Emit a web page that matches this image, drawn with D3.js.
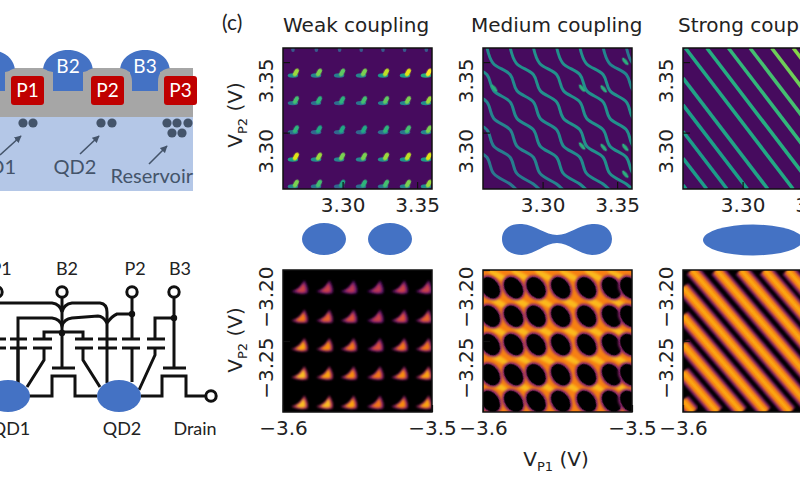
<!DOCTYPE html>
<html>
<head>
<meta charset="utf-8">
<script src="https://cdn.jsdelivr.net/npm/d3@7"></script>
<style>
  html, body { margin: 0; padding: 0; background: #fff; overflow: hidden; }
  text { font-family: "DejaVu Sans", sans-serif; fill: #222; }
  .note text, text.note { font-family: Lato, "Open Sans", sans-serif; }
</style>
</head>
<body>
<script>
// panel titles and axis ticks
const titles = ["Weak coupling", "Medium coupling", "Strong coupling"];
const topTicks = [3.30, 3.35];
const bottomTicksP1 = [-3.6, -3.5];
const bottomTicksP2 = [-3.25, -3.20];

// Weak coupling, top row: peak positions and heights
const weakTopP1 = [3.268, 3.2835, 3.299, 3.3137, 3.3285, 3.3432, 3.3573];
const weakTopP2 = [3.3416, 3.322, 3.3013, 3.282, 3.2628];
const weakTopLevel = [
  [0.75, 0.70, 0.65, 0.70, 0.80, 0.85, 0.95],
  [0.60, 0.55, 0.55, 0.60, 0.65, 0.70, 0.75],
  [0.55, 0.50, 0.50, 0.50, 0.55, 0.60, 0.70],
  [0.85, 0.75, 0.70, 0.70, 0.75, 0.80, 0.85],
  [0.70, 0.60, 0.50, 0.55, 0.60, 0.70, 0.75]
];
const weakTopFaintP1 = [3.2667, 3.2824, 3.298, 3.3125, 3.3271, 3.3416, 3.3562];

// Weak coupling, bottom row
const weakBottomP1 = [-3.5877, -3.5709, -3.5546, -3.5369, -3.5206, -3.5043];
const weakBottomP2 = [-3.2129, -3.2334, -3.2536, -3.2734, -3.2941];
const weakBottomLevel = [
  [0.55, 0.55, 0.50, 0.50, 0.55, 0.55],
  [0.70, 0.65, 0.60, 0.55, 0.60, 0.65],
  [0.80, 0.75, 0.70, 0.60, 0.70, 0.70],
  [0.85, 0.80, 0.75, 0.70, 0.75, 0.80],
  [0.85, 0.85, 0.80, 0.70, 0.75, 0.80]
];

// Medium coupling, top row: wavy lines, P1 value of each line at the shared P2 levels
const mediumTopP2 = [3.36, 3.3493, 3.341, 3.3299, 3.3216, 3.3102, 3.3019, 3.2905, 3.2825, 3.2711, 3.2635, 3.2593];
const mediumTopP1 = [
  [3.2003, 3.2043, 3.2159, 3.2203, 3.2315, 3.2359, 3.2471, 3.2515, 3.2626, 3.2671, 3.2782, 3.2827],
  [3.2159, 3.2199, 3.2315, 3.2359, 3.2471, 3.2515, 3.2627, 3.2671, 3.2782, 3.2827, 3.2938, 3.2983],
  [3.2315, 3.2355, 3.2471, 3.2515, 3.2627, 3.2671, 3.2783, 3.2827, 3.2938, 3.2983, 3.3094, 3.3139],
  [3.2471, 3.2511, 3.2627, 3.2671, 3.2783, 3.2827, 3.2939, 3.2983, 3.3094, 3.3139, 3.3250, 3.3295],
  [3.2627, 3.2667, 3.2783, 3.2827, 3.2939, 3.2983, 3.3095, 3.3139, 3.3250, 3.3295, 3.3406, 3.3451],
  [3.2783, 3.2823, 3.2939, 3.2983, 3.3095, 3.3139, 3.3251, 3.3295, 3.3406, 3.3451, 3.3562, 3.3607],
  [3.2939, 3.2979, 3.3095, 3.3139, 3.3251, 3.3295, 3.3407, 3.3451, 3.3562, 3.3607, 3.3718, 3.3763],
  [3.3095, 3.3135, 3.3251, 3.3295, 3.3407, 3.3451, 3.3563, 3.3607, 3.3718, 3.3763, 3.3874, 3.3919],
  [3.3251, 3.3291, 3.3407, 3.3451, 3.3563, 3.3607, 3.3719, 3.3763, 3.3874, 3.3919, 3.4030, 3.4075],
  [3.3407, 3.3447, 3.3563, 3.3607, 3.3719, 3.3763, 3.3875, 3.3919, 3.4030, 3.4075, 3.4186, 3.4231],
  [3.3563, 3.3603, 3.3719, 3.3763, 3.3875, 3.3919, 3.4031, 3.4075, 3.4186, 3.4231, 3.4342, 3.4387]
];
const mediumTopLevel = [0.4, 0.42, 0.45, 0.48, 0.48, 0.5, 0.5, 0.5, 0.5, 0.46, 0.4];
const mediumTopHotP1 = [3.3265, 3.341, 3.3265, 3.341, 3.3555, 3.3555, 3.3555, 3.2675];
const mediumTopHotP2 = [3.3315, 3.331, 3.2905, 3.2895, 3.2895, 3.3505, 3.2705, 3.3315];

// Medium coupling, bottom row: dark cells, bright ridges between rows
const mediumCellP1 = [-3.5951, -3.5795, -3.5644, -3.5479, -3.5305, -3.5138, -3.5016];
const mediumCellP2 = [-3.2125, -3.2325, -3.2525, -3.2737, -3.2925];
const mediumRidgeP1 = [-3.5873, -3.5717, -3.5561, -3.5394, -3.5227, -3.5071];
const mediumRidgeP2 = [-3.2042, -3.2231, -3.2431, -3.2626, -3.2819];

// Strong coupling, top row: straight lines as start and end points
const strongTopStartP1 = [3.26, 3.26, 3.26, 3.26, 3.26, 3.2616, 3.276, 3.2905, 3.305, 3.3195, 3.334, 3.3485];
const strongTopStartP2 = [3.2628, 3.2818, 3.3008, 3.3197, 3.3387, 3.36, 3.36, 3.36, 3.36, 3.36, 3.36, 3.36];
const strongTopEndP1 = [3.262, 3.2759, 3.2895, 3.3032, 3.3169, 3.3339, 3.3483, 3.3628, 3.3773, 3.3918, 3.4063, 3.4208];
const strongTopEndP2 = [3.26, 3.26, 3.26, 3.26, 3.26, 3.26, 3.26, 3.26, 3.26, 3.26, 3.26, 3.26];
const strongTopLevel = [0.55, 0.55, 0.55, 0.56, 0.58, 0.6, 0.62, 0.66, 0.7, 0.78, 0.82, 0.85];

// Strong coupling, bottom row
const strongBottomStartP1 = [-3.6, -3.6, -3.6, -3.6, -3.6, -3.594, -3.5774, -3.561, -3.545, -3.5296, -3.5127, -3.4971];
const strongBottomStartP2 = [-3.292, -3.2721, -3.2522, -3.2324, -3.2125, -3.2, -3.2, -3.2, -3.2, -3.2, -3.2, -3.2];
const strongBottomEndP1 = [-3.5934, -3.5771, -3.5608, -3.5446, -3.5283, -3.512, -3.4954, -3.479, -3.463, -3.4476, -3.4307, -3.4151];
const strongBottomEndP2 = [-3.3, -3.3, -3.3, -3.3, -3.3, -3.3, -3.3, -3.3, -3.3, -3.3, -3.3, -3.3];

const width = 800;
const height = 480;
const viridis = d3.scaleSequential(d3.interpolateViridis).domain([0, 1]);
const inferno = d3.scaleSequential(d3.interpolateInferno).domain([0, 1]);

const svg = d3.select("body").append("svg")
  .attr("width", width)
  .attr("height", height)
  .style("display", "block");

const defs = svg.append("defs");
[["blur1", 0.6], ["blur2", 1.1], ["blur3", 2]].forEach(([id, dev]) => {
  defs.append("filter").attr("id", id)
    .attr("x", "-50%").attr("y", "-50%").attr("width", "200%").attr("height", "200%")
    .append("feGaussianBlur").attr("stdDeviation", dev);
});

// Sets up one heatmap panel and returns what the drawing code needs
function makePanel(id, x0, y0, w, h, xDomain, yDomain, background) {
  const x = d3.scaleLinear().domain(xDomain).range([x0, x0 + w]);
  const y = d3.scaleLinear().domain(yDomain).range([y0 + h, y0]);
  defs.append("clipPath").attr("id", id).append("rect")
    .attr("x", x0).attr("y", y0).attr("width", w).attr("height", h);
  const g = svg.append("g").attr("clip-path", `url(#${id})`);
  g.append("rect").attr("x", x0).attr("y", y0).attr("width", w).attr("height", h).attr("fill", background);
  return { x, y, g, x0, y0, w, h };
}

// Frame, inward ticks and the rotated labels
function addAxes(panel, xTicks, yTicks, xFormat, yFormat) {
  const { x, y, x0, y0, w, h } = panel;
  const bottom = svg.append("g").attr("transform", `translate(0,${y0 + h})`)
    .call(d3.axisBottom(x).tickValues(xTicks).tickFormat(d3.format(xFormat)).tickSizeInner(-7).tickSizeOuter(0).tickPadding(9));
  const left = svg.append("g").attr("transform", `translate(${x0},0)`)
    .call(d3.axisLeft(y).tickValues(yTicks).tickFormat(d3.format(yFormat)).tickSizeInner(-7).tickSizeOuter(0).tickPadding(0));
  [bottom, left].forEach((a) => {
    a.select(".domain").remove();
    a.selectAll("line").attr("stroke", "#111").attr("stroke-width", 1.2);
    a.selectAll("text").style("font-family", "DejaVu Sans").style("font-size", "20px").attr("fill", "#222");
  });
  // y labels read upward and finish just above their tick
  left.selectAll("text")
    .attr("dy", 0).attr("x", 0)
    .attr("text-anchor", "end")
    .attr("transform", "translate(-10,-4) rotate(-90)");
  svg.append("rect").attr("x", x0).attr("y", y0).attr("width", w).attr("height", h)
    .attr("fill", "none").attr("stroke", "#111").attr("stroke-width", 1.5);
}

const panelX = [283, 483, 683];
const panelW = 149;

// ---------- Weak coupling ----------
const weakTop = makePanel("p1", panelX[0], 48, panelW, 141, [3.26, 3.36], [3.26, 3.36], viridis(0.03));
weakTop.g.selectAll(".faint").data(weakTopFaintP1).join("line")
  .attr("x1", (d) => weakTop.x(d)).attr("x2", (d) => weakTop.x(d))
  .attr("y1", weakTop.y(3.36)).attr("y2", weakTop.y(3.26))
  .attr("stroke", viridis(0.14)).attr("stroke-width", 1.2).attr("filter", "url(#blur1)");
weakTop.g.selectAll(".cap").data(weakTopFaintP1).join("ellipse")
  .attr("cx", (d) => weakTop.x(d)).attr("cy", weakTop.y(3.359))
  .attr("rx", 1.8).attr("ry", 2.5).attr("fill", viridis(0.28)).attr("filter", "url(#blur1)");
weakTopP2.forEach((v2, r) => {
  weakTopP1.forEach((v1, c) => {
    const cx = weakTop.x(v1), cy = weakTop.y(v2), level = weakTopLevel[r][c];
    const dot = weakTop.g.append("g").attr("transform", `translate(${cx},${cy})`);
    dot.append("ellipse").attr("cx", -2).attr("cy", 1.5).attr("rx", 5.2).attr("ry", 2.2)
      .attr("fill", viridis(level * 0.65)).attr("filter", "url(#blur1)");
    dot.append("ellipse").attr("cx", 1).attr("cy", -1.5).attr("rx", 2.3).attr("ry", 4.2)
      .attr("transform", "rotate(30 1 -1.5)")
      .attr("fill", viridis(Math.min(level + 0.1, 1))).attr("filter", "url(#blur1)");
  });
});
addAxes(weakTop, topTicks, topTicks, ".2f", ".2f");

const weakBottom = makePanel("p2", panelX[0], 270, panelW, 142, [-3.6, -3.5], [-3.3, -3.2], "#000");
weakBottomP2.forEach((v2, r) => {
  weakBottomP1.forEach((v1, c) => {
    const cx = weakBottom.x(v1), cy = weakBottom.y(v2), level = weakBottomLevel[r][c];
    const dot = weakBottom.g.append("g").attr("transform", `translate(${cx},${cy})`);
    dot.append("path").attr("d", "M-10,3 Q-2,1 3,-8 Q8,0 6,5 Q-2,7 -10,3 Z")
      .attr("fill", inferno(level * 0.55)).attr("filter", "url(#blur2)");
    dot.append("path").attr("d", "M-6,2.5 Q-1,1 2,-5 Q5,0 4,3.5 Q-1,5 -6,2.5 Z")
      .attr("fill", inferno(level)).attr("filter", "url(#blur2)");
  });
});
addAxes(weakBottom, bottomTicksP1, bottomTicksP2, ".1f", ".2f");

// ---------- Medium coupling ----------
const mediumTop = makePanel("p3", panelX[1], 48, panelW, 141, [3.26, 3.36], [3.26, 3.36], viridis(0.03));
const wave = d3.line().curve(d3.curveCatmullRom.alpha(0.5));
mediumTop.g.selectAll(".wave").data(mediumTopP1).join("path")
  .attr("d", (row) => wave(row.map((v1, i) => [mediumTop.x(v1), mediumTop.y(mediumTopP2[i])])))
  .attr("fill", "none")
  .attr("stroke", (row, i) => viridis(mediumTopLevel[i]))
  .attr("stroke-width", 3)
  .attr("filter", "url(#blur1)");
mediumTop.g.selectAll(".hot").data(mediumTopHotP1).join("ellipse")
  .attr("transform", (d, i) => `translate(${mediumTop.x(d)},${mediumTop.y(mediumTopHotP2[i])}) rotate(50)`)
  .attr("rx", 4.5).attr("ry", 1.8).attr("fill", viridis(0.64)).attr("filter", "url(#blur1)");
addAxes(mediumTop, topTicks, topTicks, ".2f", ".2f");

const mediumBottom = makePanel("p4", panelX[1], 270, panelW, 142, [-3.6, -3.5], [-3.3, -3.2], inferno(0.72));
mediumRidgeP2.forEach((v2) => {
  mediumRidgeP1.forEach((v1) => {
    const cx = mediumBottom.x(v1), cy = mediumBottom.y(v2);
    mediumBottom.g.append("ellipse").attr("rx", 12).attr("ry", 3)
      .attr("transform", `translate(${cx - 3},${cy}) rotate(28)`)
      .attr("fill", inferno(0.84)).attr("filter", "url(#blur2)");
  });
});
mediumCellP2.forEach((v2) => {
  mediumCellP1.forEach((v1) => {
    const cx = mediumBottom.x(v1), cy = mediumBottom.y(v2);
    mediumBottom.g.append("ellipse").attr("rx", 10.5).attr("ry", 13.5)
      .attr("transform", `translate(${cx},${cy}) rotate(-35)`)
      .attr("fill", inferno(0.36)).attr("filter", "url(#blur2)");
    mediumBottom.g.append("ellipse").attr("rx", 8.5).attr("ry", 11.5)
      .attr("transform", `translate(${cx},${cy}) rotate(-35)`)
      .attr("fill", "#000").attr("filter", "url(#blur1)");
  });
});
addAxes(mediumBottom, bottomTicksP1, bottomTicksP2, ".1f", ".2f");

// ---------- Strong coupling ----------
const strongTop = makePanel("p5", panelX[2], 48, panelW, 141, [3.26, 3.36], [3.26, 3.36], viridis(0.03));
strongTop.g.selectAll(".band").data(strongTopStartP1).join("line")
  .attr("x1", (d) => strongTop.x(d))
  .attr("y1", (d, i) => strongTop.y(strongTopStartP2[i]))
  .attr("x2", (d, i) => strongTop.x(strongTopEndP1[i]))
  .attr("y2", (d, i) => strongTop.y(strongTopEndP2[i]))
  .attr("stroke", (d, i) => viridis(strongTopLevel[i]))
  .attr("stroke-width", 3.6)
  .attr("filter", "url(#blur1)");
addAxes(strongTop, topTicks, topTicks, ".2f", ".2f");

const strongBottom = makePanel("p6", panelX[2], 270, panelW, 142, [-3.6, -3.5], [-3.3, -3.2], "#000");
[[14, 0.36], [9, 0.72], [3, 0.82]].forEach(([sw, level]) => {
  strongBottom.g.append("g").selectAll("line").data(strongBottomStartP1).join("line")
    .attr("x1", (d) => strongBottom.x(d))
    .attr("y1", (d, i) => strongBottom.y(strongBottomStartP2[i]))
    .attr("x2", (d, i) => strongBottom.x(strongBottomEndP1[i]))
    .attr("y2", (d, i) => strongBottom.y(strongBottomEndP2[i]))
    .attr("stroke", inferno(level))
    .attr("stroke-width", sw)
    .attr("filter", "url(#blur2)");
});
addAxes(strongBottom, bottomTicksP1, bottomTicksP2, ".1f", ".2f");

// ---------- Titles and axis names ----------
svg.selectAll(".title").data(titles).join("text")
  .attr("x", (d, i) => [283, 471, 678][i])
  .attr("y", 32)
  .style("font-size", "20px")
  .text((d) => d);
svg.append("text").attr("class", "note").attr("x", 222).attr("y", 30).style("font-size", "21px").text("(c)");

function axisName(sel, main, sub, tail) {
  sel.style("font-size", "20px");
  sel.append("tspan").text(main);
  sel.append("tspan").attr("dy", 5).style("font-size", "13px").text(sub);
  sel.append("tspan").attr("dy", -5).text(tail);
}
[115, 340].forEach((cy) => {
  svg.append("text").attr("text-anchor", "middle")
    .attr("transform", `translate(242,${cy}) rotate(-90)`)
    .call(axisName, "V", "P2", " (V)");
});
svg.append("text").attr("text-anchor", "middle")
  .attr("transform", "translate(556,466)")
  .call(axisName, "V", "P1", " (V)");

// ---------- Dot shapes between the rows ----------
const blobColor = "#4472c4";
svg.append("ellipse").attr("cx", 324).attr("cy", 239).attr("rx", 22).attr("ry", 16).attr("fill", blobColor);
svg.append("ellipse").attr("cx", 390).attr("cy", 239).attr("rx", 22).attr("ry", 16).attr("fill", blobColor);
svg.append("ellipse").attr("cx", 753).attr("cy", 240).attr("rx", 50).attr("ry", 15.5).attr("fill", blobColor);
svg.append("path").attr("fill", blobColor)
  .attr("d", "M502,239 C502,228 512,223 522,224 C536,225 545,235 557,235 C569,235 578,225 592,224 C603,223 612,229 612,239 C612,249 603,255 592,255 C578,254 569,243 557,243 C545,243 536,254 522,255 C512,255 502,250 502,239 Z");

// ---------- Device cross section ----------
const device = svg.append("g").attr("class", "note");
const slate = "#44546a";
device.append("rect").attr("x", 0).attr("y", 117).attr("width", 193).attr("height", 74).attr("fill", "#b4c7e7");
device.append("rect").attr("x", 0).attr("y", 68).attr("width", 193).attr("height", 49).attr("fill", "#a6a6a6");

// barrier gates
const domePath = (cx) => `M${cx - 25},70 C${cx - 24},57 ${cx - 12},50 ${cx},50 C${cx + 12},50 ${cx + 24},57 ${cx + 25},70 L${cx + 15},72 L${cx + 15},91 L${cx - 15},91 L${cx - 15},72 Z`;
[-10, 68, 145].forEach((cx) => device.append("path").attr("d", domePath(cx)).attr("fill", blobColor));
[[-30, 23], [5, 47], [83, 49], [158, 35]].forEach(([x, w]) => {
  device.append("path").attr("fill", "#a6a6a6")
    .attr("d", `M${x},117 L${x},82 Q${x},68 ${x + 14},68 L${x + w - 14},68 Q${x + w},68 ${x + w},82 L${x + w},117 Z`);
});
device.selectAll(".b").data([["B2", 68], ["B3", 145]]).join("text")
  .attr("x", (d) => d[1]).attr("y", 73).attr("text-anchor", "middle")
  .style("font-size", "19px").style("fill", "#fff").text((d) => d[0]);

// plunger gates
[["P1", 11, 33], ["P2", 91, 33], ["P3", 164, 33]].forEach(([name, x, w]) => {
  device.append("rect").attr("x", x).attr("y", 76).attr("width", w).attr("height", 29).attr("rx", 3).attr("fill", "#c00000");
  device.append("text").attr("x", x + 16.5).attr("y", 97).attr("text-anchor", "middle")
    .style("font-size", "19px").style("fill", "#fff").text(name);
});
[[23, 123], [33, 123], [101, 123], [112, 123], [167, 123], [177, 123], [188, 123], [172, 133], [182, 133]].forEach(([cx, cy]) => {
  device.append("circle").attr("cx", cx).attr("cy", cy).attr("r", 4.6).attr("fill", slate);
});
defs.append("marker").attr("id", "tip").attr("viewBox", "0 0 10 10").attr("refX", 9).attr("refY", 5)
  .attr("markerWidth", 4.5).attr("markerHeight", 4.5).attr("orient", "auto")
  .append("path").attr("d", "M0,0 L10,5 L0,10 Z").attr("fill", slate);
[[0, 155, 21, 136], [80, 154, 99, 136], [149, 164, 167, 146]].forEach(([a, b, c, d]) => {
  device.append("line").attr("x1", a).attr("y1", b).attr("x2", c).attr("y2", d)
    .attr("stroke", slate).attr("stroke-width", 1.6).attr("marker-end", "url(#tip)");
});
[["QD1", 16, 174, "end"], ["QD2", 75, 174, "middle"], ["Reservoir", 193, 183, "end"]].forEach(([name, x, y, anchor]) => {
  device.append("text").attr("x", x).attr("y", y).attr("text-anchor", anchor)
    .style("font-size", "20px").style("fill", slate).text(name);
});

// ---------- Equivalent circuit ----------
const circuit = svg.append("g").attr("class", "note");
const wire = (d, w) => circuit.append("path").attr("d", d).attr("fill", "none")
  .attr("stroke", "#111").attr("stroke-width", w || 3);

// gate feed lines with hops over the B2 wire
wire("M-5,303 L52,303 Q60,304 62,312 Q64,304 72,303 L100,303 Q107,304 107,312 L107,383");
wire("M18,383 L18,318 L52,318 Q60,319 62,326 Q64,319 72,318 L98,316 Q103,316 107,323 Q112,316 117,314 L132,314");
wire("M44,339 L44,332 L83,332 L83,339");
wire("M-5,332 L-5,339");
wire("M155,339 L155,318 L174,318");

// vertical gate lines
wire("M62,297 L62,368");
wire("M132,297 L132,339 M132,348 L132,382");
wire("M174,297 L174,368");

// capacitors
[[-10, 6], [10, 27], [33, 52], [75, 93], [98, 117], [122, 140], [147, 165]].forEach(([a, b]) => {
  wire(`M${a},339 L${b},339 M${a},348 L${b},348`);
});
wire("M18,348 L18,383");
wire("M44,348 L44,360 L27,387");
wire("M83,348 L83,360 L100,387");
wire("M155,348 L155,355 L139,390");

// transistor channels and gates
wire("M29,396 L52,396 L52,376 L75,376 L75,396 L97,396");
wire("M141,396 L162,396 L162,376 L186,376 L186,396 L206,396");
wire("M52,368 L75,368");
wire("M163,368 L186,368");

circuit.append("ellipse").attr("cx", 8).attr("cy", 396).attr("rx", 22).attr("ry", 16).attr("fill", blobColor);
circuit.append("ellipse").attr("cx", 119).attr("cy", 396).attr("rx", 22).attr("ry", 16).attr("fill", blobColor);
[[62, 333], [132, 314], [174, 318]].forEach(([cx, cy]) => {
  circuit.append("circle").attr("cx", cx).attr("cy", cy).attr("r", 3.2).attr("fill", "#111");
});
[[-3, 292], [62, 292], [132, 292], [174, 292], [211, 396]].forEach(([cx, cy]) => {
  circuit.append("circle").attr("cx", cx).attr("cy", cy).attr("r", 5.2).attr("fill", "#fff")
    .attr("stroke", "#111").attr("stroke-width", 3);
});
[["P1", 1, 275], ["B2", 67, 275], ["P2", 135, 275], ["B3", 180, 275], ["QD1", 11, 435], ["QD2", 122, 435], ["Drain", 195, 435]].forEach(([name, x, y]) => {
  circuit.append("text").attr("x", x).attr("y", y).attr("text-anchor", "middle")
    .style("font-size", "18px").style("fill", "#222").text(name);
});
</script>
</body>
</html>
